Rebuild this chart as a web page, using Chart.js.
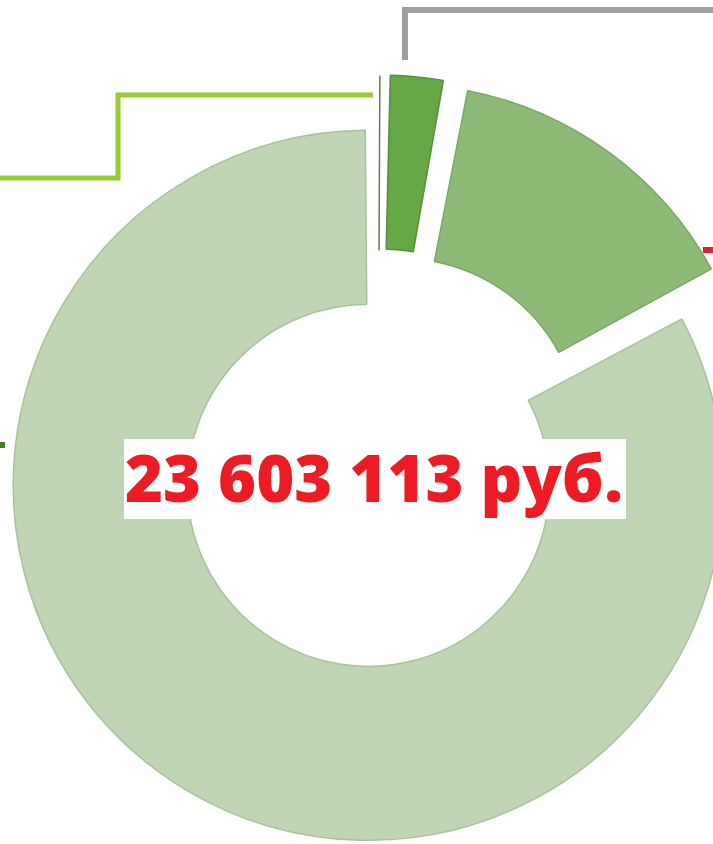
<!DOCTYPE html>
<html>
<head>
<meta charset="utf-8">
<script src="https://cdn.jsdelivr.net/npm/chart.js@4/dist/chart.umd.min.js"></script>
<style>
  html, body { margin: 0; padding: 0; background: #ffffff; width: 713px; height: 844px; overflow: hidden; }
  #wrap { position: relative; width: 713px; height: 844px; }
  #chart { position: absolute; left: 0; top: 0; }
  #total { position: absolute; left: 124px; top: 439px; width: 502px; height: 80px; background: #ffffff; overflow: visible; }
  #total span { position: absolute; left: 1px; top: 4px; font-family: 'Open Sans', 'Roboto', sans-serif; font-weight: 800;
    font-size: 66px; line-height: 66px; color: #ED1C24; white-space: nowrap; transform-origin: 0 0; }
</style>
</head>
<body>
<div id="wrap">
  <canvas id="chart" width="713" height="844"></canvas>
  <div id="total"><span id="totalText"></span></div>
</div>
<script>
// ---- data ----
const categories = ['Категория 1', 'Категория 2', 'Категория 3', 'Категория 4'];
const shares = [0.15, 2.85, 14.1, 82.9];          // % of total
const totalLabel = '23 603 113 руб.';

// ---- styles ----
const sliceColors  = ['#71965f', '#66a846', '#8dbb77', '#bfd5b4'];
const sliceBorders = ['#5d7f4e', '#578f3c', '#79a765', '#a9c19e'];
const sliceOffsets = [152, 156, 148, 76];

// Chart.js grows radii of offset arcs; keep all rings at the same radius
const keepRadius = {
  id: 'keepRadius',
  afterDatasetUpdate(chart, args) {
    args.meta.data.forEach(arc => {
      const off = ((arc.options && arc.options.offset) || 0) / 4;
      const fix = 1 - Math.sin(Math.min(Math.PI, arc.circumference || 0));
      arc.outerRadius -= off * fix;
      arc.innerRadius -= off * fix;
    });
  }
};

const leaders = {
  id: 'leaders',
  afterDraw(chart) {
    const ctx = chart.ctx;
    ctx.save();
    ctx.lineJoin = 'miter';
    ctx.lineCap = 'butt';
    ctx.strokeStyle = '#98ca33';
    ctx.lineWidth = 5;
    ctx.beginPath();
    ctx.moveTo(0, 178); ctx.lineTo(118, 178); ctx.lineTo(118, 95); ctx.lineTo(373, 95);
    ctx.stroke();
    ctx.strokeStyle = '#a0a0a0';
    ctx.lineWidth = 6;
    ctx.beginPath();
    ctx.moveTo(405, 60); ctx.lineTo(405, 10); ctx.lineTo(713, 10);
    ctx.stroke();
    ctx.fillStyle = '#e8202a';
    ctx.fillRect(703, 247, 10, 6);
    ctx.fillStyle = '#3f7f2e';
    ctx.fillRect(0, 442, 5, 6);
    ctx.restore();
  }
};

new Chart(document.getElementById('chart'), {
  type: 'doughnut',
  data: {
    labels: categories,
    datasets: [{
      data: shares,
      backgroundColor: sliceColors,
      borderColor: sliceBorders,
      borderWidth: 1.5,
      offset: sliceOffsets,
      hoverOffset: 0
    }]
  },
  options: {
    responsive: false,
    animation: false,
    devicePixelRatio: 1,
    radius: 355,
    cutout: '51%',
    rotation: 0,
    layout: { padding: { left: 43, top: 94, right: 0, bottom: 0 } },
    plugins: { legend: { display: false }, tooltip: { enabled: false } }
  },
  plugins: [keepRadius, leaders]
});

const span = document.getElementById('totalText');
span.textContent = totalLabel;
const w = span.getBoundingClientRect().width;
span.style.transform = 'scaleX(' + (498 / w) + ')';
</script>
</body>
</html>
